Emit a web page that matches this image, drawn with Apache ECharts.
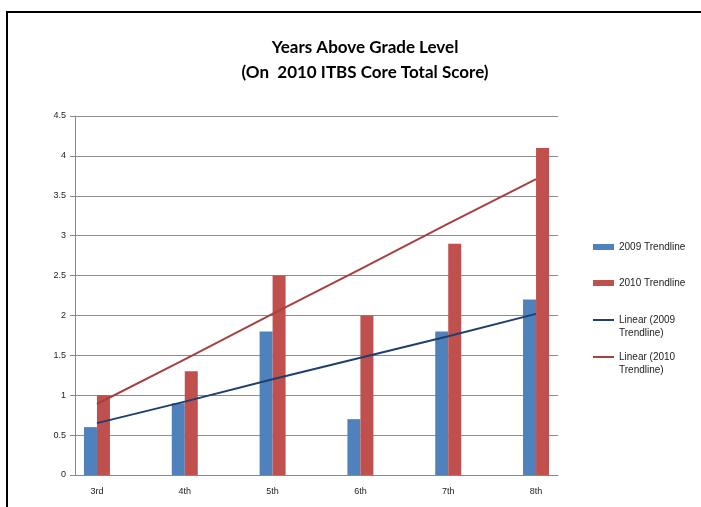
<!DOCTYPE html>
<html>
<head>
<meta charset="utf-8">
<script src="https://cdn.jsdelivr.net/npm/echarts@6/dist/echarts.min.js"></script>
<style>
  html, body { margin: 0; padding: 0; background: #fff; }
  #main { width: 701px; height: 507px; }
  #frame {
    position: absolute; left: 6px; top: 11px; width: 700px; height: 500px;
    border-left: 2px solid #000; border-top: 2px solid #000; pointer-events: none;
  }
</style>
</head>
<body>
<div id="main"></div>
<div id="frame"></div>
<script>
  // grades on the x axis (Excel sheet had an empty slot between each)
  var grades = ['3rd', '4th', '5th', '6th', '7th', '8th'];
  var yrs2009 = [0.6, 0.9, 1.8, 0.7, 1.8, 2.2];
  var yrs2010 = [1.0, 1.3, 2.5, 2.0, 2.9, 4.1];
  // linear trendlines at each grade
  var trend2009 = [0.65, 0.92, 1.2, 1.47, 1.74, 2.02];
  var trend2010 = [0.89, 1.45, 2.02, 2.58, 3.15, 3.71];

  // spread the six grades over eleven slots
  function spread(arr, blank) {
    var out = [];
    arr.forEach(function (v, i) {
      if (i > 0) out.push(blank);
      out.push(v);
    });
    return out;
  }

  var myChart = echarts.init(document.getElementById('main'));
  var font = 'Liberation Sans';
  var legendText = { fontFamily: font, fontSize: 10, color: '#222' };
  // blank first line so the icon sits level with the first text line
  var twoLine = {
    fontFamily: font, fontSize: 10, color: '#222',
    rich: { t: { fontFamily: font, fontSize: 10, color: '#222', lineHeight: 13 } }
  };
  function twoLineFmt(name) {
    return '{t| }\n' + name.split('\n').map(function (s) { return '{t|' + s + '}'; }).join('\n');
  }

  var option = {
    animation: false,
    backgroundColor: '#fff',
    title: {
      text: 'Years Above Grade Level\n(On  2010 ITBS Core Total Score)',
      left: 360,
      textAlign: 'center',
      top: 30,
      textStyle: { fontFamily: 'Lato', fontWeight: 'bold', fontSize: 17, lineHeight: 25, color: '#000' }
    },
    legend: [
      { left: 593, top: 242, padding: 0, itemWidth: 21, itemHeight: 6, icon: 'rect', data: ['2009 Trendline'], textStyle: legendText },
      { left: 593, top: 278, padding: 0, itemWidth: 21, itemHeight: 6, icon: 'rect', data: ['2010 Trendline'], textStyle: legendText },
      { left: 593, top: 302, padding: 0, itemWidth: 21, itemHeight: 2, icon: 'rect', data: ['Linear (2009\nTrendline)'], textStyle: twoLine, formatter: twoLineFmt },
      { left: 593, top: 339, padding: 0, itemWidth: 21, itemHeight: 2, icon: 'rect', data: ['Linear (2010\nTrendline)'], textStyle: twoLine, formatter: twoLineFmt }
    ],
    grid: { left: 75, right: 143, top: 116, bottom: 32 },
    xAxis: {
      type: 'category',
      data: spread(grades, ''),
      axisLine: { lineStyle: { color: '#888' } },
      axisTick: { interval: 0, length: 5, lineStyle: { color: '#888' } },
      axisLabel: { interval: 0, margin: 12, fontFamily: font, fontSize: 9, color: '#222' }
    },
    yAxis: {
      type: 'value',
      min: 0,
      max: 4.5,
      interval: 0.5,
      axisLine: { show: true, lineStyle: { color: '#888' } },
      axisTick: { show: true, length: 5, lineStyle: { color: '#888' } },
      splitLine: { lineStyle: { color: '#8c8c8c' } },
      axisLabel: { margin: 9, fontFamily: font, fontSize: 9, color: '#222' }
    },
    series: [
      {
        name: '2009 Trendline', type: 'bar', barWidth: 13, barGap: 0,
        itemStyle: { color: '#4F81BD' },
        data: spread(yrs2009, '-')
      },
      {
        name: '2010 Trendline', type: 'bar', barWidth: 13, barGap: 0,
        itemStyle: { color: '#C0504D' },
        data: spread(yrs2010, '-')
      },
      {
        name: 'Linear (2009\nTrendline)', type: 'line', symbol: 'none', connectNulls: true,
        lineStyle: { color: '#1F3F6E', width: 2 }, itemStyle: { color: '#1F3F6E' },
        data: spread(trend2009, '-')
      },
      {
        name: 'Linear (2010\nTrendline)', type: 'line', symbol: 'none', connectNulls: true,
        lineStyle: { color: '#A5413E', width: 2 }, itemStyle: { color: '#A5413E' },
        data: spread(trend2010, '-')
      }
    ]
  };
  myChart.setOption(option);
</script>
</body>
</html>
